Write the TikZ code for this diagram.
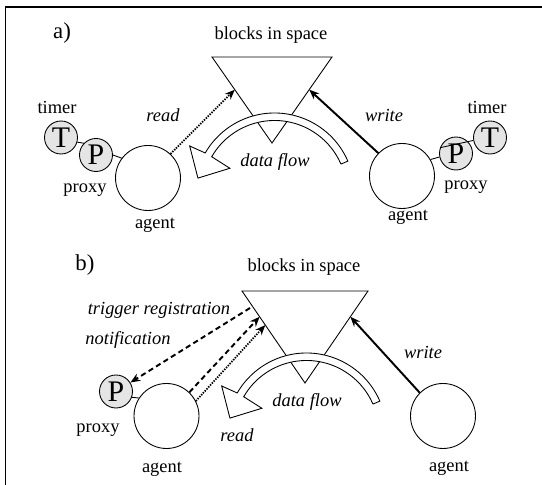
\documentclass[tikz,border=0pt]{standalone}
\usepackage{fontspec}
\setmainfont{Liberation Serif}
\usetikzlibrary{arrows.meta,calc}

% hollow curved arrow, drawn round a centre coordinate
\newcommand{\flowarc}[1]{%
  \draw[fill=white, line width=0.5pt]
    ([shift={(23.5:1.45)}]#1) -- ([shift={(23.5:1.6)}]#1)
    arc[start angle=23.5, end angle=150, radius=1.6]
    -- ([shift={(151:1.94)}]#1) -- ([shift={(169:1.56)}]#1)
    -- ([shift={(151:1.02)}]#1) -- ([shift={(150:1.45)}]#1)
    arc[start angle=150, end angle=23.5, radius=1.45] -- cycle;}

\begin{document}
\begin{tikzpicture}[
    font=\fontsize{10.5}{12}\selectfont,
    agentcirc/.style={draw, circle, line width=0.5pt, minimum size=1.3cm, inner sep=0pt},
    lettercirc/.style={draw, circle, line width=0.5pt, fill=black!10,
      minimum size=0.66cm, inner sep=0pt, font=\fontsize{17}{17}\selectfont},
    actword/.style={font=\fontsize{10.5}{12}\selectfont\itshape},
    panelmark/.style={font=\fontsize{13}{14}\selectfont},
    spaceline/.style={line width=0.5pt},
    readarrow/.style={-{Stealth[length=2mm, width=1.6mm]}, line width=1pt,
      dash pattern=on 0.8pt off 0.7pt},
    writearrow/.style={-{Stealth[length=2mm, width=1.6mm]}, line width=1.1pt},
    trigarrow/.style={-{Stealth[length=2mm, width=1.6mm]}, line width=1.1pt,
      dash pattern=on 3pt off 2pt}
  ]
  \useasboundingbox (0, 0) rectangle (10.84, 9.7);
  \draw[line width=1.1pt] (0.11, -0.2) -- (0.11, 9.56) -- (11, 9.56);

  % a)
  \node[panelmark] (marka) at (1.24, 9.04) {a)};
  \node (spacea) at (5.42, 9.0) {blocks in space};

  \coordinate (tal) at (4.24, 8.56);
  \coordinate (tar) at (6.64, 8.56);
  \coordinate (tab) at (5.44, 6.84);
  \draw[spaceline] (tal) -- (tar) -- (tab) -- cycle;

  \coordinate (arca) at (5.49, 5.84);
  \flowarc{arca}
  \node[actword] (flowa) at (5.5, 6.46) {data flow};

  \node[agentcirc] (agental) at (2.96, 6.14) {};
  \node[agentcirc] (agentar) at (8.04, 6.18) {};
  \node (agentalt) at (3.1, 5.2) {agent};
  \node (agentart) at (8.16, 5.35) {agent};

  \node[lettercirc] (timeral) at (1.22, 6.95) {T};
  \node[lettercirc] (proxyal) at (1.92, 6.6) {P};
  \node[lettercirc] (proxyar) at (9.12, 6.63) {P};
  \node[lettercirc] (timerar) at (9.8, 6.95) {T};
  \draw[spaceline] (timeral.-16) -- (proxyal.136);
  \draw[spaceline] (proxyal.east) -- (agental.143);
  \draw[spaceline] (proxyar.160) -- (timerar.190);
  \draw[spaceline] (agentar.30) -- (proxyar.192);

  \node (timeralt) at (1.14, 7.56) {timer};
  \node (proxyalt) at (1.7, 5.9) {proxy};
  \node (timerart) at (9.74, 7.56) {timer};
  \node (proxyart) at (9.32, 5.96) {proxy};

  \node[actword] (reada) at (3.26, 7.4) {read};
  \node[actword] (writea) at (7.68, 7.4) {write};

  \coordinate (readaend) at ($(tal)!0.38!(tab)$);
  \coordinate (writeaend) at ($(tar)!0.38!(tab)$);
  \draw[readarrow] (agental.47) -- (readaend);
  \draw[writearrow] (agentar.136) -- (writeaend);

  % b)
  \node[panelmark] (markb) at (1.7, 4.4) {b)};
  \node (spaceb) at (6.08, 4.36) {blocks in space};

  \coordinate (tbl) at (4.84, 3.88);
  \coordinate (tbr) at (7.36, 3.88);
  \coordinate (tbb) at (6.1, 2.04);
  \draw[spaceline] (tbl) -- (tbr) -- (tbb) -- cycle;

  \coordinate (arcb) at (6.13, 1.04);
  \flowarc{arcb}
  \node[actword] (flowb) at (6.14, 1.66) {data flow};

  \node[agentcirc] (agentbl) at (3.33, 1.38) {};
  \node[agentcirc] (agentbr) at (8.86, 1.38) {};
  \node (agentblt) at (3.24, 0.32) {agent};
  \node (agentbrt) at (8.98, 0.34) {agent};

  \node[lettercirc] (proxybl) at (2.32, 1.87) {P};
  \draw[spaceline] (proxybl.-20) -- (agentbl.147);
  \node (proxyblt) at (1.96, 1.1) {proxy};

  \node[actword] (trigb) at (3.18, 3.5) {trigger registration};
  \node[actword] (notifb) at (2.56, 2.9) {notification};
  \node[actword] (readb) at (4.74, 1.0) {read};
  \node[actword] (writeb) at (8.46, 2.66) {write};

  \coordinate (notifbstart) at (5.0, 3.54);
  \coordinate (trigbend) at ($(tbl)!0.28!(tbb)$);
  \coordinate (readbend) at ($(tbl)!0.37!(tbb)$);
  \coordinate (writebend) at ($(tbr)!0.28!(tbb)$);
  \draw[trigarrow] (notifbstart) -- (proxybl);
  \draw[trigarrow] (agentbl.46) -- (trigbend);
  \draw[readarrow] (agentbl.27) -- (readbend);
  \draw[writearrow] (agentbr.135) -- (writebend);
\end{tikzpicture}
\end{document}
